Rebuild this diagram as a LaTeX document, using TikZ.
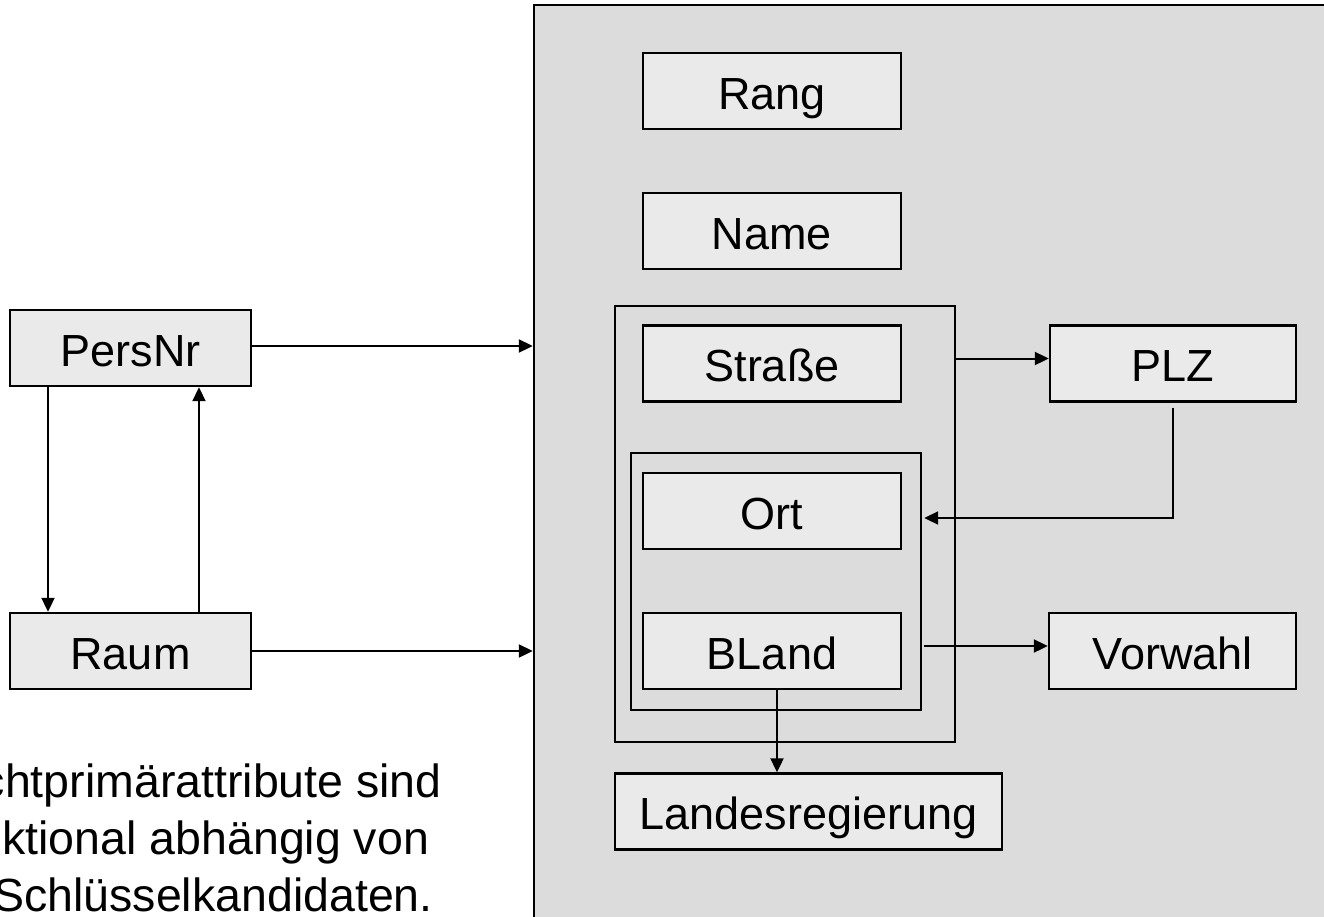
\documentclass[tikz,border=0pt]{standalone}
\usepackage{fontspec}
\setmainfont{Liberation Sans}
\usetikzlibrary{arrows.meta,calc}
\definecolor{biggray}{HTML}{DCDCDC}
\definecolor{boxgray}{HTML}{EAEAEA}
\tikzset{
  attr/.style={draw=black, fill=boxgray, line width=2.4pt, inner sep=0pt,
    minimum height=76pt, text height=40pt, text depth=4pt,
    font=\fontsize{45}{54}\selectfont},
  grp/.style={draw=black, line width=2.4pt, inner sep=0pt},
  arr/.style={line width=2pt, -{Triangle[length=14pt,width=13pt]}},
  txt/.style={inner sep=0pt, font=\fontsize{46.5}{57}\selectfont}
}
\begin{document}
\begin{tikzpicture}[x=1pt,y=-1pt]
\useasboundingbox (0,0) rectangle (1324,916);
\clip (0,0) rectangle (1324,916);
% big relation box
\node[draw=black, fill=biggray, line width=2.4pt, inner sep=0pt,
      minimum width=806pt, minimum height=925pt] (rel) at (937,467.5) {};
% groups
\node[grp, minimum width=340pt, minimum height=436pt] (outer) at (785,524) {};
\node[grp, minimum width=290pt, minimum height=257pt] (inner) at (776,581.5) {};
% attributes
\node[attr, minimum width=258pt] (rang) at (772,91) {Rang};
\node[attr, minimum width=258pt] (name) at (772,231) {Name};
\node[attr, minimum width=258pt] (str) at (772,363.5) {Straße};
\node[attr, minimum width=258pt] (ort) at (772,511) {Ort};
\node[attr, minimum width=258pt] (bland) at (772,651) {BLand};
\node[attr, minimum width=246pt] (plz) at (1173,363.5) {PLZ};
\node[attr, minimum width=247pt] (vorw) at (1172.5,651) {Vorwahl};
\node[attr, minimum width=387pt] (lreg) at (808.5,811.5) {Landesregierung};
\node[attr, minimum width=241pt] (pers) at (130.5,348) {PersNr};
\node[attr, minimum width=241pt] (raum) at (130.5,651) {Raum};
% connectors
\draw[arr] ([yshift=2pt]pers.east) -- ([yshift=2pt]pers.east -| rel.west);
\draw[arr] (raum.east) -- (raum.east -| rel.west);
\draw[arr] ([xshift=-82.5pt]pers.south) -- ([xshift=-82.5pt]raum.north);
\draw[arr] ([xshift=68.5pt]raum.north) -- ([xshift=68.5pt]pers.south);
\draw[arr] ([yshift=5pt]outer.east |- plz.west) -- ([yshift=5pt]plz.west);
\draw[arr] ([yshift=-5pt]plz.south) |- ([xshift=2pt,yshift=-7pt]inner.east |- ort.east);
\draw[arr] ([xshift=2pt,yshift=5pt]inner.east |- bland.east) -- ([yshift=5pt]vorw.west);
\draw[arr] ([xshift=5pt]bland.south) -- ([xshift=5pt]bland.south |- lreg.north);
% note text
\node[txt, anchor=base east] (l1) at (442,797) {Nichtprimärattribute sind};
\node[txt, anchor=base west] (l2) at ($(l1.base west)+(0,57)$) {funktional abhängig von};
\node[txt, anchor=base east] (l3) at ($(l1.base east)+(-9,114)$) {Schlüsselkandidaten.};
\end{tikzpicture}
\end{document}
